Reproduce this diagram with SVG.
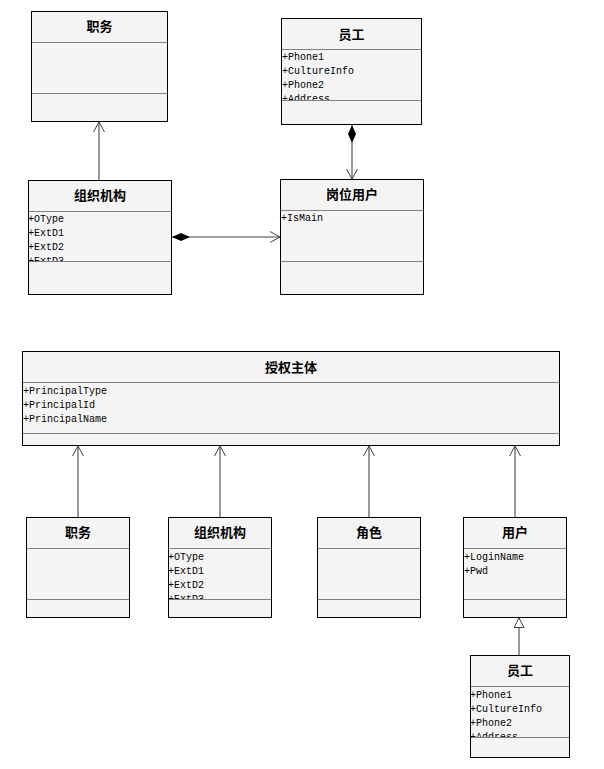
<svg xmlns="http://www.w3.org/2000/svg" width="604" height="769" viewBox="0 0 604 769">
<style>
.box{fill:#f4f4f4;stroke:#000;stroke-width:1}
.div{stroke:#808080;stroke-width:1}
.title{font-family:"Noto Sans CJK SC","Noto Sans",sans-serif;font-size:13px;font-weight:bold;fill:#000;text-anchor:middle}
.attr{font-family:"Liberation Mono",monospace;font-size:10px;fill:#000}
.conn{stroke:#808080;stroke-width:1.6;fill:none}
</style>
<defs>
<marker id="open" markerWidth="12" markerHeight="12" refX="10" refY="6" orient="auto" markerUnits="userSpaceOnUse">
<path d="M0,0.5 L10,6 L0,11.5" fill="none" stroke="#404040" stroke-width="1"/>
</marker>
<marker id="diamond" markerWidth="20" markerHeight="10" refX="0" refY="5" orient="auto" markerUnits="userSpaceOnUse">
<path d="M0,5 L9,1 L18,5 L9,9 Z" fill="#000"/>
</marker>
<marker id="tri" markerWidth="12" markerHeight="12" refX="10" refY="6" orient="auto" markerUnits="userSpaceOnUse">
<path d="M0.5,1 L10,6 L0.5,11 Z" fill="#fff" stroke="#404040" stroke-width="1"/>
</marker>
<clipPath id="c1"><rect x="282" y="49" width="139" height="51"/></clipPath>
<clipPath id="c2"><rect x="28" y="211" width="143" height="50"/></clipPath>
<clipPath id="c3"><rect x="168" y="548" width="102" height="51"/></clipPath>
<clipPath id="c4"><rect x="470" y="686" width="99" height="51"/></clipPath>
</defs>

<g id="connectors">
<path class="conn" d="M99,180 L99,122" marker-end="url(#open)"/>
<path class="conn" d="M352,125 L352,179" marker-start="url(#diamond)" marker-end="url(#open)"/>
<path class="conn" d="M172,237 L280,237" marker-start="url(#diamond)" marker-end="url(#open)"/>
<path class="conn" d="M78,517 L78,446" marker-end="url(#open)"/>
<path class="conn" d="M220,517 L220,446" marker-end="url(#open)"/>
<path class="conn" d="M369,517 L369,446" marker-end="url(#open)"/>
<path class="conn" d="M515,517 L515,446" marker-end="url(#open)"/>
<path class="conn" d="M519,655 L519,618" marker-end="url(#tri)"/>
</g>

<g id="zhiwu1">
<rect class="box" x="31.5" y="11.5" width="136" height="110"/>
<line class="div" x1="32" y1="42.5" x2="167" y2="42.5"/>
<line class="div" x1="32" y1="93.5" x2="167" y2="93.5"/>
<text class="title" x="99.5" y="31">职务</text>
</g>

<g id="yuangong1">
<rect class="box" x="281.5" y="18.5" width="140" height="106"/>
<line class="div" x1="282" y1="49.5" x2="421" y2="49.5"/>
<line class="div" x1="282" y1="100.5" x2="421" y2="100.5"/>
<text class="title" x="351.5" y="39">员工</text>
<g clip-path="url(#c1)">
<text class="attr" x="282" y="60">+Phone1</text>
<text class="attr" x="282" y="74">+CultureInfo</text>
<text class="attr" x="282" y="88">+Phone2</text>
<text class="attr" x="282" y="102">+Address</text>
</g>
</g>

<g id="zuzhi1">
<rect class="box" x="28.5" y="180.5" width="143" height="114"/>
<line class="div" x1="29" y1="211.5" x2="171" y2="211.5"/>
<line class="div" x1="29" y1="261.5" x2="171" y2="261.5"/>
<text class="title" x="100" y="200">组织机构</text>
<g clip-path="url(#c2)">
<text class="attr" x="28" y="222">+OType</text>
<text class="attr" x="28" y="236">+ExtD1</text>
<text class="attr" x="28" y="250">+ExtD2</text>
<text class="attr" x="28" y="264">+ExtD3</text>
</g>
</g>

<g id="gangwei">
<rect class="box" x="280.5" y="179.5" width="143" height="115"/>
<line class="div" x1="281" y1="210.5" x2="423" y2="210.5"/>
<line class="div" x1="281" y1="261.5" x2="423" y2="261.5"/>
<text class="title" x="352" y="199">岗位用户</text>
<text class="attr" x="281" y="221">+IsMain</text>
</g>

<g id="shouquan">
<rect class="box" x="22.5" y="351.5" width="537" height="94"/>
<line class="div" x1="23" y1="382.5" x2="559" y2="382.5"/>
<line class="div" x1="23" y1="433.5" x2="559" y2="433.5"/>
<text class="title" x="291" y="372">授权主体</text>
<text class="attr" x="23" y="394">+PrincipalType</text>
<text class="attr" x="23" y="408">+PrincipalId</text>
<text class="attr" x="23" y="422">+PrincipalName</text>
</g>

<g id="zhiwu2">
<rect class="box" x="26.5" y="517.5" width="103" height="100"/>
<line class="div" x1="27" y1="548.5" x2="129" y2="548.5"/>
<line class="div" x1="27" y1="599.5" x2="129" y2="599.5"/>
<text class="title" x="78" y="537">职务</text>
</g>

<g id="zuzhi2">
<rect class="box" x="168.5" y="517.5" width="103" height="100"/>
<line class="div" x1="169" y1="548.5" x2="271" y2="548.5"/>
<line class="div" x1="169" y1="599.5" x2="271" y2="599.5"/>
<text class="title" x="220" y="537">组织机构</text>
<g clip-path="url(#c3)">
<text class="attr" x="168" y="560">+OType</text>
<text class="attr" x="168" y="574">+ExtD1</text>
<text class="attr" x="168" y="588">+ExtD2</text>
<text class="attr" x="168" y="602">+ExtD3</text>
</g>
</g>

<g id="juese">
<rect class="box" x="317.5" y="517.5" width="103" height="100"/>
<line class="div" x1="318" y1="548.5" x2="420" y2="548.5"/>
<line class="div" x1="318" y1="599.5" x2="420" y2="599.5"/>
<text class="title" x="369" y="537">角色</text>
</g>

<g id="yonghu">
<rect class="box" x="463.5" y="517.5" width="103" height="100"/>
<line class="div" x1="464" y1="548.5" x2="566" y2="548.5"/>
<line class="div" x1="464" y1="599.5" x2="566" y2="599.5"/>
<text class="title" x="515" y="537">用户</text>
<text class="attr" x="464" y="560">+LoginName</text>
<text class="attr" x="464" y="574">+Pwd</text>
</g>

<g id="yuangong2">
<rect class="box" x="470.5" y="655.5" width="99" height="102"/>
<line class="div" x1="471" y1="686.5" x2="569" y2="686.5"/>
<line class="div" x1="471" y1="737.5" x2="569" y2="737.5"/>
<text class="title" x="520" y="675">员工</text>
<g clip-path="url(#c4)">
<text class="attr" x="470" y="698">+Phone1</text>
<text class="attr" x="470" y="712">+CultureInfo</text>
<text class="attr" x="470" y="726">+Phone2</text>
<text class="attr" x="470" y="740">+Address</text>
</g>
</g>
</svg>
